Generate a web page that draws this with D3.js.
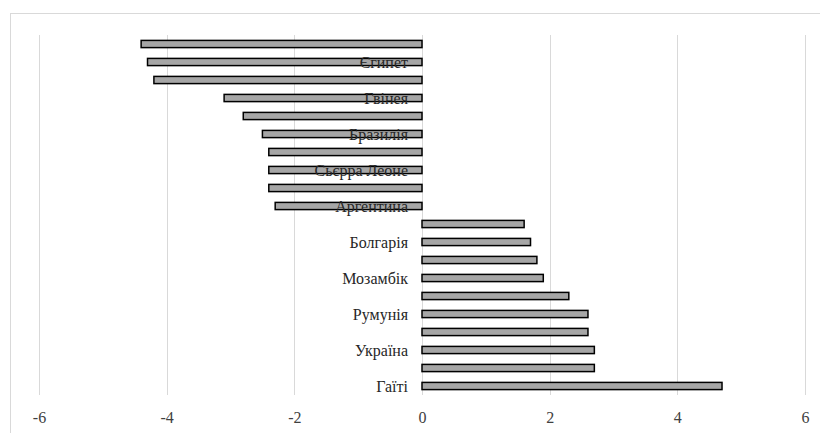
<!DOCTYPE html>
<html>
<head>
<meta charset="utf-8">
<script src="https://cdn.jsdelivr.net/npm/d3@7"></script>
<style>
  body { margin: 0; background: #fff; }
</style>
</head>
<body>
<script>
// Values in order from top to bottom; only every second category is labelled
const values = [-4.4, -4.3, -4.2, -3.1, -2.8, -2.5, -2.4, -2.4, -2.4, -2.3,
                1.6, 1.7, 1.8, 1.9, 2.3, 2.6, 2.6, 2.7, 2.7, 4.7];
const labels = ['', 'Єгипет', '', 'Гвінея', '', 'Бразилія', '', 'Сьєрра Леоне', '', 'Аргентина',
                '', 'Болгарія', '', 'Мозамбік', '', 'Румунія', '', 'Україна', '', 'Гаїті'];
const xTicks = [-6, -4, -2, 0, 2, 4, 6];

const width = 820, height = 433;
const margin = {top: 35, right: 15, bottom: 38, left: 39};
const serif = 'Liberation Serif';

const svg = d3.select('body').append('svg')
    .attr('width', width)
    .attr('height', height);

// chart border
svg.append('rect')
    .attr('x', 10.5).attr('y', 13.5)
    .attr('width', 820).attr('height', 440)
    .attr('fill', 'none')
    .attr('stroke', '#d9d9d9');

const x = d3.scaleLinear().domain([-6, 6]).range([margin.left, width - margin.right]);
const y = d3.scaleBand()
    .domain(d3.range(values.length))
    .range([margin.top, height - margin.bottom])
    .paddingInner(0.6)
    .paddingOuter(0.3);

// gridlines
svg.append('g')
    .selectAll('line')
    .data(xTicks)
    .join('line')
    .attr('x1', d => Math.round(x(d)) + 0.5)
    .attr('x2', d => Math.round(x(d)) + 0.5)
    .attr('y1', margin.top)
    .attr('y2', height - margin.bottom)
    .attr('stroke', '#d9d9d9')
    .attr('stroke-width', 1);

// bars
svg.append('g')
    .selectAll('rect')
    .data(values)
    .join('rect')
    .attr('x', d => x(Math.min(0, d)))
    .attr('y', (d, i) => y(i))
    .attr('width', d => Math.abs(x(d) - x(0)))
    .attr('height', y.bandwidth())
    .attr('fill', '#a6a6a6')
    .attr('stroke', '#000')
    .attr('stroke-width', 1.5);

// category labels at the zero line
svg.append('g')
    .selectAll('text')
    .data(labels)
    .join('text')
    .attr('x', x(0) - 14)
    .attr('y', (d, i) => y(i) + y.bandwidth() / 2)
    .attr('dy', '0.35em')
    .attr('text-anchor', 'end')
    .attr('font-family', serif)
    .attr('font-size', 16)
    .attr('fill', '#262626')
    .text(d => d);

// x axis tick labels
const xAxis = d3.axisBottom(x).tickValues(xTicks).tickSize(0).tickPadding(17)
    .tickFormat(d => String(d));
const gx = svg.append('g')
    .attr('transform', `translate(0,${height - margin.bottom})`)
    .call(xAxis)
    .attr('font-family', serif)
    .attr('font-size', 16);
gx.select('.domain').remove();
gx.selectAll('text').attr('fill', '#404040');
</script>
</body>
</html>
